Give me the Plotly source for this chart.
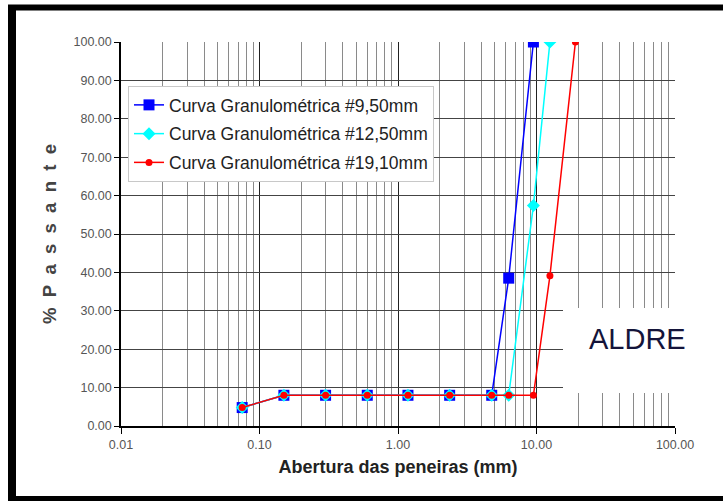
import plotly.graph_objects as go

sieves_blue = [0.075, 0.15, 0.3, 0.6, 1.18, 2.36, 4.75, 6.3, 9.5]
pass_blue = [4.8, 8.0, 8.0, 8.0, 8.0, 8.0, 8.0, 38.5, 100.0]

sieves_cyan = [0.075, 0.15, 0.3, 0.6, 1.18, 2.36, 4.75, 6.3, 9.5, 12.5]
pass_cyan = [4.8, 8.0, 8.0, 8.0, 8.0, 8.0, 8.0, 8.0, 57.4, 100.0]

sieves_red = [0.075, 0.15, 0.3, 0.6, 1.18, 2.36, 4.75, 6.3, 9.5, 12.5, 19.1]
pass_red = [4.8, 8.0, 8.0, 8.0, 8.0, 8.0, 8.0, 8.0, 8.0, 39.1, 100.0]

x_tickvals = [0.01, 0.1, 1, 10, 100]
x_ticktext = ["0.01", "0.10", "1.00", "10.00", "100.00"]

FONT = "Liberation Sans, Arial, sans-serif"
SP = "\u00a0\u00a0"
y_title = SP.join(["%", "P", "a", "s", "s", "a", "n", "t", "e"])

fig = go.Figure()
fig.add_trace(go.Scatter(
    x=sieves_blue, y=pass_blue, mode="lines+markers",
    name="Curva Granulométrica #9,50mm", legendgroup="a",
    line=dict(color="#0000ff", width=1.5),
    marker=dict(symbol="square", size=11, color="#0000ff"),
))
fig.add_trace(go.Scatter(
    x=sieves_cyan, y=pass_cyan, mode="lines+markers",
    name="Curva Granulométrica #12,50mm", legendgroup="b",
    line=dict(color="#00ffff", width=1.5),
    marker=dict(symbol="diamond", size=10, color="#00ffff"),
))
fig.add_trace(go.Scatter(
    x=sieves_red, y=pass_red, mode="lines+markers",
    name="Curva Granulométrica #19,10mm", legendgroup="c",
    line=dict(color="#ff0000", width=1.5),
    marker=dict(symbol="circle", size=7, color="#ff0000"),
))

fig.update_layout(
    width=723, height=501,
    margin=dict(l=121, r=48, t=42, b=75, autoexpand=False),
    paper_bgcolor="white", plot_bgcolor="white",
    font=dict(family=FONT, color="#222"),
    showlegend=True,
    legend=dict(
        x=(128 - 121) / 554, y=(426 - 86) / 384, xanchor="left", yanchor="top",
        bgcolor="white", bordercolor="#c8c8c8", borderwidth=1,
        font=dict(size=17.5, color="#222", family=FONT),
        traceorder="grouped", tracegroupgap=3, itemwidth=30,
    ),
    xaxis=dict(
        type="log", range=[-2, 2],
        tickvals=x_tickvals, ticktext=x_ticktext,
        showgrid=True, gridcolor="#222", gridwidth=1.3,
        showline=True, linecolor="black", linewidth=1.5,
        ticks="outside", ticklen=6, tickcolor="black",
        tickfont=dict(size=12.5, color="#555"),
        minor=dict(dtick="D1", showgrid=True, gridcolor="#8a8a8a", gridwidth=1.3, ticks=""),
        title=dict(text="<b>Abertura das peneiras (mm)</b>", font=dict(size=18, color="#222"), standoff=10),
        zeroline=False,
    ),
    yaxis=dict(
        range=[0, 100], dtick=10, tickformat=".2f",
        showgrid=True, gridcolor="#444", gridwidth=1.3,
        showline=True, linecolor="black", linewidth=1.5,
        ticks="outside", ticklen=5, tickcolor="black",
        tickfont=dict(size=12.5, color="#555"),
        title=dict(text="<b>" + y_title + "</b>", font=dict(size=18.5, color="#444"), standoff=12),
        zeroline=False,
    ),
    shapes=[
        dict(type="rect", xref="paper", yref="paper",
             x0=(563 - 121) / 554, x1=(682 - 121) / 554,
             y0=(426 - 393) / 384, y1=(426 - 308) / 384,
             fillcolor="white", line=dict(width=0), layer="above"),
        dict(type="line", xref="paper", yref="paper",
             x0=(12 - 121) / 554, x1=(12 - 121) / 554,
             y0=(426 - 498) / 384, y1=(426 - 5) / 384,
             line=dict(color="black", width=8)),
        dict(type="line", xref="paper", yref="paper",
             x0=(8 - 121) / 554, x1=(723 - 121) / 554,
             y0=(426 - 7.5) / 384, y1=(426 - 7.5) / 384,
             line=dict(color="black", width=6)),
        dict(type="line", xref="paper", yref="paper",
             x0=(8 - 121) / 554, x1=(723 - 121) / 554,
             y0=(426 - 498.5) / 384, y1=(426 - 498.5) / 384,
             line=dict(color="black", width=5)),
    ],
    annotations=[
        dict(text="ALDRE", xref="paper", yref="paper",
             x=(637 - 121) / 554, y=(426 - 339) / 384,
             xanchor="center", yanchor="middle", showarrow=False,
             font=dict(size=29, color="#14143a", family=FONT)),
    ],
)

fig.write_html("out.html", config={"displayModeBar": False},
               post_script="document.body.style.margin='0px';")
